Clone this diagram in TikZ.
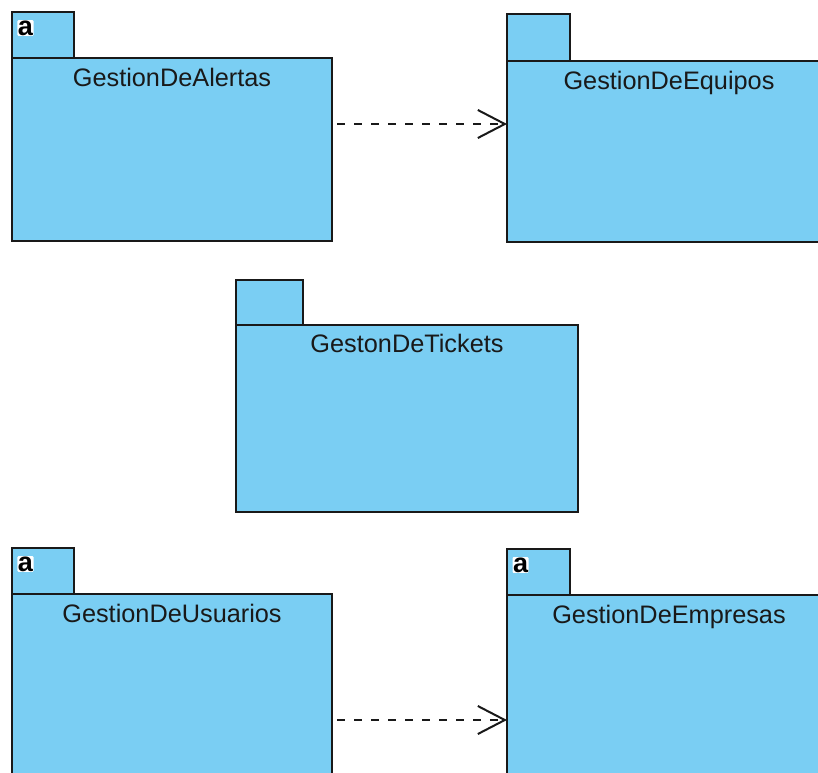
\documentclass[tikz,border=0pt]{standalone}
\usepackage{fontspec}
\setmainfont{Liberation Sans}
\usetikzlibrary{calc,arrows.meta}
\definecolor{pkgblue}{RGB}{122,206,243}
\definecolor{pkgline}{RGB}{25,25,25}
\tikzset{
  pkgbody/.style={draw=pkgline,fill=pkgblue,line width=2pt,rectangle,anchor=north west,inner sep=0pt,outer sep=0pt},
  pkgtab/.style={draw=pkgline,fill=pkgblue,line width=2pt,rectangle,anchor=south west,inner sep=0pt,outer sep=0pt},
  pkglabel/.style={anchor=base,inner sep=0pt,text=pkgline,font=\fontsize{25.3}{28}\selectfont},
  absicon/.style={fill=white,inner sep=0.5pt,rounded corners=1pt,text=black,font=\fontsize{27}{27}\selectfont\bfseries},
  dep/.style={draw=pkgline,line width=2pt,dash pattern=on 8pt off 9pt,-{Straight Barb[length=27pt,width=28pt,line width=2pt]}}
}
\begin{document}
\begin{tikzpicture}[x=1pt,y=-1pt]
\useasboundingbox (0,0) rectangle (818,772);
\clip (0,0) rectangle (818,772);
% GestionDeAlertas
\node[pkgbody,minimum width=320pt,minimum height=183pt] (alertas) at (12,58) {};
\node[pkgtab,minimum width=62pt,minimum height=46pt] (alertasTab) at (alertas.north west) {};
\node[pkglabel] (alertasLbl) at ($(alertas.north)+(0,28)$) {GestionDeAlertas};
\node[absicon] (alertasIcon) at ($(alertasTab.north west)+(13.5,16)$) {a};
% GestionDeEquipos
\node[pkgbody,minimum width=324pt,minimum height=181pt] (equipos) at (507,61) {};
\node[pkgtab,minimum width=63pt,minimum height=47pt] (equiposTab) at (equipos.north west) {};
\node[pkglabel] (equiposLbl) at ($(equipos.north)+(0,28)$) {GestionDeEquipos};
% GestonDeTickets
\node[pkgbody,minimum width=342pt,minimum height=187pt] (tickets) at (236,325) {};
\node[pkgtab,minimum width=67pt,minimum height=45pt] (ticketsTab) at (tickets.north west) {};
\node[pkglabel] (ticketsLbl) at ($(tickets.north)+(0,27)$) {GestonDeTickets};
% GestionDeUsuarios
\node[pkgbody,minimum width=320pt,minimum height=190pt] (usuarios) at (12,594) {};
\node[pkgtab,minimum width=62pt,minimum height=46pt] (usuariosTab) at (usuarios.north west) {};
\node[pkglabel] (usuariosLbl) at ($(usuarios.north)+(0,28)$) {GestionDeUsuarios};
\node[absicon] (usuariosIcon) at ($(usuariosTab.north west)+(13.5,16)$) {a};
% GestionDeEmpresas
\node[pkgbody,minimum width=324pt,minimum height=190pt] (empresas) at (507,595) {};
\node[pkgtab,minimum width=63pt,minimum height=46pt] (empresasTab) at (empresas.north west) {};
\node[pkglabel] (empresasLbl) at ($(empresas.north)+(0,28)$) {GestionDeEmpresas};
\node[absicon] (empresasIcon) at ($(empresasTab.north west)+(13.5,16)$) {a};
% dependencies
\coordinate (d1) at (0,124);
\coordinate (d2) at (0,720);
\draw[dep,shorten <=5pt] (alertas.east |- d1) -- (equipos.west |- d1);
\draw[dep,shorten <=5pt] (usuarios.east |- d2) -- (empresas.west |- d2);
\end{tikzpicture}
\end{document}
